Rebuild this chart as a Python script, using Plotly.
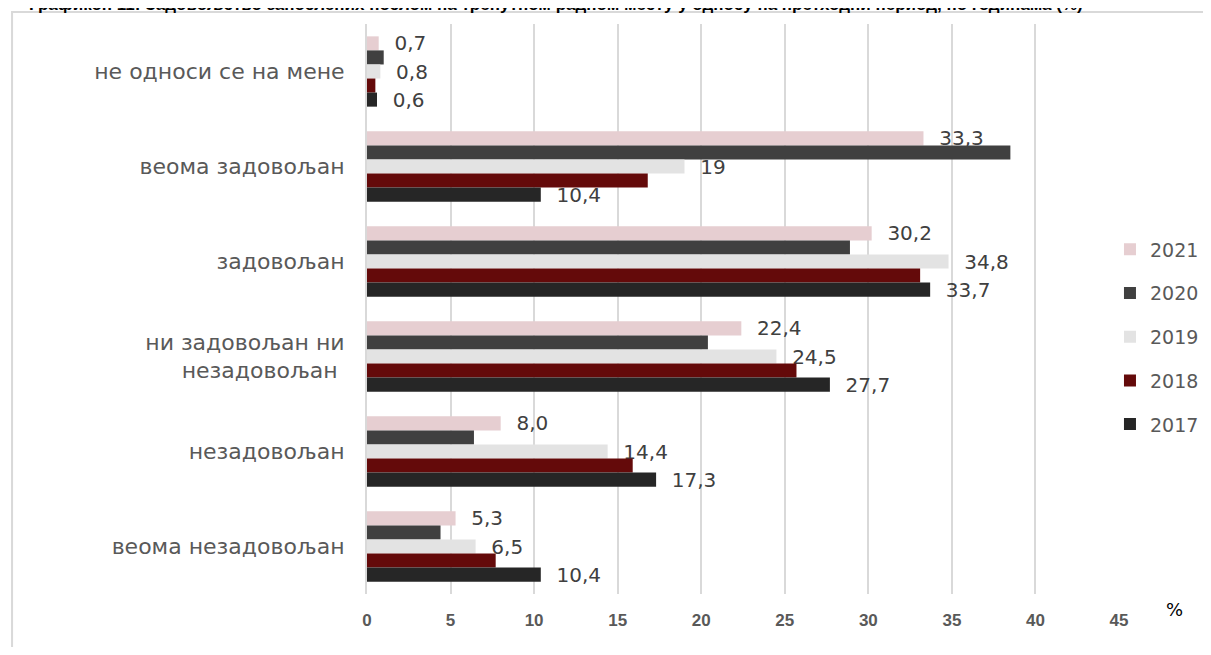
import plotly.graph_objects as go

categories = [
    "не односи се на мене",
    "веома задовољан",
    "задовољан",
    "ни задовољан ни<br>незадовољан ",
    "незадовољан",
    "веома незадовољан",
]

years = ["2021", "2020", "2019", "2018", "2017"]

v2017 = [0.6, 10.4, 33.7, 27.7, 17.3, 10.4]
v2018 = [0.5, 16.8, 33.1, 25.7, 15.9, 7.7]
v2019 = [0.8, 19.0, 34.8, 24.5, 14.4, 6.5]
v2020 = [1.0, 38.5, 28.9, 20.4, 6.4, 4.4]
v2021 = [0.7, 33.3, 30.2, 22.4, 8.0, 5.3]

t2017 = ["0,6", "10,4", "33,7", "27,7", "17,3", "10,4"]
t2018 = ["", "", "", "", "", ""]
t2019 = ["0,8", "19", "34,8", "24,5", "14,4", "6,5"]
t2020 = ["", "", "", "", "", ""]
t2021 = ["0,7", "33,3", "30,2", "22,4", "8,0", "5,3"]

colors = {
    "2017": "#262626",
    "2018": "#640a0a",
    "2019": "#e3e3e3",
    "2020": "#404040",
    "2021": "#e6ced1",
}

series = {
    "2017": (v2017, t2017),
    "2018": (v2018, t2018),
    "2019": (v2019, t2019),
    "2020": (v2020, t2020),
    "2021": (v2021, t2021),
}

fig = go.Figure()
pad = "\u00a0\u00a0"
for y in years:
    vals, txt = series[y]
    fig.add_trace(go.Bar(
        name=y,
        y=categories,
        x=vals,
        orientation="h",
        marker=dict(color=colors[y], line=dict(width=0)),
        text=[(pad + t) if t else "" for t in txt],
        textposition="outside",
        constraintext="none",
        cliponaxis=False,
        textfont=dict(family="DejaVu Sans", size=20, color="#404040"),
        legendgroup=y,
        hoverinfo="x+name",
    ))

fig.update_layout(
    width=1195,
    height=639,
    barmode="group",
    bargap=0.26,
    bargroupgap=0,
    plot_bgcolor="white",
    paper_bgcolor="white",
    margin=dict(l=359, r=84, t=16, b=53, autoexpand=False),
    showlegend=True,
    legend=dict(
        traceorder="grouped",
        x=0.988, xanchor="left",
        y=0.451, yanchor="middle",
        font=dict(family="DejaVu Sans", size=19, color="#595959"),
        tracegroupgap=16,
        bgcolor="rgba(0,0,0,0)",
    ),
    xaxis=dict(
        range=[0, 45],
        dtick=5,
        tick0=0,
        showgrid=True,
        gridcolor="#d9d9d9",
        gridwidth=2,
        zeroline=False,
        showline=False,
        ticks="",
        tickfont=dict(family="Liberation Sans Narrow, Liberation Sans", size=17, color="#595959", weight="bold"),
        ticklabelstandoff=14,
    ),
    yaxis=dict(
        categoryorder="array",
        categoryarray=categories,
        autorange="reversed",
        showgrid=False,
        zeroline=False,
        showline=True,
        linecolor="#d9d9d9",
        linewidth=2,
        ticks="",
        tickfont=dict(family="DejaVu Sans", size=22, color="#595959"),
        ticklabelstandoff=16,
    ),
    shapes=[
        dict(type="rect", xref="paper", yref="paper",
             x0=-0.472, x1=1.3, y0=-0.3, y1=1.021,
             line=dict(color="#d9d9d9", width=2), fillcolor="rgba(0,0,0,0)",
             layer="below"),
    ],
    annotations=[
        dict(text="%", xref="paper", yref="paper", x=1.074, y=-0.028,
             xanchor="center", yanchor="middle", showarrow=False,
             font=dict(family="DejaVu Sans", size=18, color="#000000")),
        dict(text="Графикон 11: Задовољство запослених послом на тренутном радном месту у односу на претходни период, по годинама (%)",
             xref="paper", yref="paper", x=-0.452, y=1.0245,
             xanchor="left", yanchor="bottom", yshift=-6, showarrow=False,
             font=dict(family="Liberation Sans", size=17, color="#000000", weight="bold")),
    ],
)

fig.write_html("out.html")
